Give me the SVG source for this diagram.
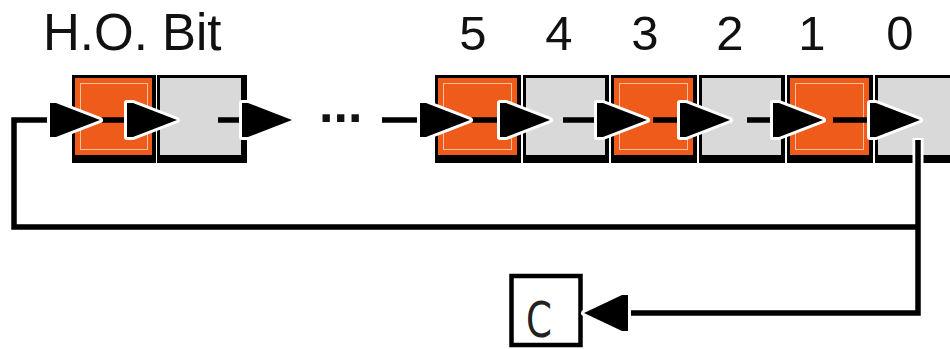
<svg xmlns="http://www.w3.org/2000/svg" width="950" height="349" viewBox="0 0 950 349">
  <style>
    .label { font-family: "Liberation Sans", Arial, sans-serif; fill: #111; }
    .frame { fill: #000; }
    .orange { fill: #EF5B1B; }
    .gray { fill: #D9D9D9; }
    .inner { fill: none; stroke: #F6BFA0; stroke-width: 1; }
    .wire { fill: none; stroke: #000; stroke-width: 5.5; stroke-linejoin: miter; }
    .halo { fill: none; stroke: #fff; stroke-width: 11; }
    .head { fill: #000; stroke: #fff; stroke-width: 6; paint-order: stroke fill; stroke-linejoin: round; }
  </style>
  <defs>
    <!-- arrowhead pointing right, tip at origin -->
    <polygon id="ah" points="0,0 -44,-17 -50,-17 -50,17 -44,17"/>
    <!-- arrowhead pointing left, tip at origin -->
    <polygon id="ahl" points="0,0 38,-18 44,-18 44,18 38,18"/>
  </defs>

  <rect width="950" height="349" fill="#fff"/>

  <!-- bit labels -->
  <g id="labels">
    <text class="label" x="43" y="50" font-size="51">H.O. Bit</text>
    <g font-size="49" text-anchor="middle">
      <text class="label" x="473" y="50">5</text>
      <text class="label" x="559" y="50">4</text>
      <text class="label" x="645" y="50">3</text>
      <text class="label" x="730" y="50">2</text>
      <text class="label" x="812" y="50">1</text>
      <text class="label" x="900" y="50">0</text>
    </g>
  </g>

  <!-- register cells -->
  <g id="cell-ho">
    <rect class="frame" x="72" y="75" width="84" height="88"/>
    <rect class="orange" x="75" y="78" width="77" height="77"/>
    <rect class="inner" x="80.5" y="83.5" width="67" height="66"/>
  </g>
  <g id="cell-ho-1">
    <rect class="frame" x="157" y="75" width="90" height="88"/>
    <rect class="gray" x="160" y="78" width="81" height="77"/>
  </g>
  <g id="cell-5">
    <rect class="frame" x="435" y="75" width="86" height="88"/>
    <rect class="orange" x="438" y="78" width="79" height="77"/>
    <rect class="inner" x="443.5" y="83.5" width="68" height="66"/>
  </g>
  <g id="cell-4">
    <rect class="frame" x="523" y="75" width="86" height="88"/>
    <rect class="gray" x="526" y="78" width="79" height="77"/>
  </g>
  <g id="cell-3">
    <rect class="frame" x="611" y="75" width="86" height="88"/>
    <rect class="orange" x="614" y="78" width="79" height="77"/>
    <rect class="inner" x="619.5" y="83.5" width="68" height="66"/>
  </g>
  <g id="cell-2">
    <rect class="frame" x="699" y="75" width="86" height="88"/>
    <rect class="gray" x="702" y="78" width="79" height="77"/>
  </g>
  <g id="cell-1">
    <rect class="frame" x="787" y="75" width="86" height="88"/>
    <rect class="orange" x="790" y="78" width="79" height="77"/>
    <rect class="inner" x="795.5" y="83.5" width="68" height="66"/>
  </g>
  <g id="cell-0">
    <rect class="frame" x="875" y="75" width="86" height="88"/>
    <rect class="gray" x="878" y="78" width="79" height="77"/>
  </g>

  <!-- carry flag -->
  <g id="carry">
    <rect x="511.5" y="276" width="69" height="69" fill="#fff" stroke="#000" stroke-width="4.5"/>
    <text x="526" y="337" font-size="49" font-family="'DejaVu Sans', sans-serif" fill="#222" textLength="26" lengthAdjust="spacingAndGlyphs">C</text>
  </g>

  <!-- ellipsis between the high and low bits -->
  <text class="label" x="319" y="122" font-size="52" font-weight="bold">...</text>

  <!-- connectors -->
  <g id="connectors">
    <path class="halo" d="M918,138 V170"/>
    <path class="wire" d="M918,140 V313 H626"/>
    <path class="wire" d="M918,227 H14 V120 H95"/>
    <path class="wire" d="M100,120 H172"/>
    <path class="wire" d="M218,120 H287"/>
    <path class="wire" d="M382,120 H465"/>
    <path class="wire" d="M470,120 H545"/>
    <path class="wire" d="M563,120 H642"/>
    <path class="wire" d="M653,120 H725"/>
    <path class="wire" d="M747,120 H818"/>
    <path class="wire" d="M833,120 H915"/>

    <use href="#ah" class="head" x="100" y="120"/>
    <use href="#ah" class="head" x="177" y="120"/>
    <use href="#ah" class="head" x="292" y="120"/>
    <use href="#ah" class="head" x="470" y="120"/>
    <use href="#ah" class="head" x="550" y="120"/>
    <use href="#ah" class="head" x="647" y="120"/>
    <use href="#ah" class="head" x="730" y="120"/>
    <use href="#ah" class="head" x="823" y="120"/>
    <use href="#ah" class="head" x="920" y="120"/>
    <use href="#ahl" class="head" x="584" y="313"/>
  </g>
</svg>
